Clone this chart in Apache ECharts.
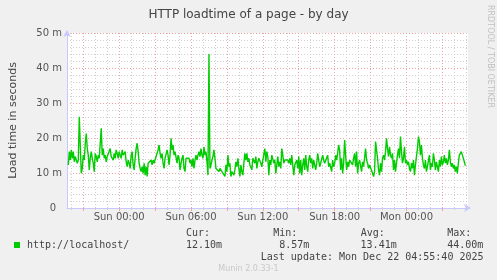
<!DOCTYPE html>
<html>
<head>
<meta charset="utf-8">
<script src="https://cdn.jsdelivr.net/npm/echarts@6/dist/echarts.min.js"></script>
<style>
html,body{margin:0;padding:0;background:#f0f0f0;}
#c{width:497px;height:280px;}
</style>
</head>
<body>
<div id="c"></div>
<script>
// ---- data (milliseconds, 5-minute samples, hours relative to Sun 00:00) ----
const startHour = -4.25;          // Sat 19:45
const stepHours = 5 / 60;         // 5 minute samples
const loadtime = [
12.3,16.1,13.7,16.6,14.2,16.1,13.2,14.7,13.7,12.8,
13.7,26.1,18.0,9.9,11.3,15.1,13.7,18.5,21.3,17.0,
15.1,10.9,14.2,16.1,14.2,12.8,10.4,15.6,14.7,13.2,
15.1,14.2,14.7,22.8,15.1,17.0,14.2,15.1,13.2,14.7,
14.2,15.1,17.0,14.7,15.1,13.7,15.6,14.2,16.6,15.6,
14.2,16.1,15.1,14.2,16.6,15.1,14.7,16.1,13.2,11.8,
13.7,12.8,11.3,15.1,16.1,12.3,10.9,14.2,17.0,18.5,
16.1,12.8,11.3,10.4,11.8,9.9,12.8,9.4,11.8,9.0,
12.8,12.3,13.2,13.7,12.3,13.7,12.8,13.2,14.7,14.2,
16.6,18.0,15.6,14.2,15.6,12.8,11.3,14.2,13.7,16.6,
15.1,12.3,
15.1,19.9,16.6,18.0,15.1,16.1,15.6,12.8,15.1,14.2,
10.9,12.8,14.2,15.1,11.3,10.4,14.2,14.7,14.7,14.2,
12.8,13.7,11.8,14.2,11.3,13.7,15.1,13.7,15.1,16.1,
14.7,17.0,15.1,14.2,17.5,15.1,16.1,13.2,9.4,44.0,
11.3,12.3,13.7,14.7,16.6,14.2,11.3,10.9,11.8,10.4,
11.3,11.8,10.4,9.9,10.9,9.0,12.3,10.4,15.1,11.8,
12.8,9.0,10.4,9.9,9.4,10.9,13.2,11.8,14.2,11.3,
9.0,12.3,10.4,9.4,12.8,15.6,13.7,15.6,13.2,14.2,
12.3,12.8,10.9,14.2,14.7,12.8,14.7,11.3,13.2,14.2,
14.7,12.8,11.8,13.7,14.2,17.0,13.2,16.1,14.7,
9.4,13.7,12.3,15.1,15.6,12.8,13.7,9.9,12.3,14.7,
11.8,13.2,11.3,17.0,15.1,12.8,13.7,14.2,13.2,13.7,
12.8,14.2,12.3,15.1,15.6,9.4,12.3,12.8,13.7,11.3,
14.7,9.9,13.7,9.4,12.3,14.2,10.9,15.1,11.8,10.4,
13.7,15.1,12.8,14.2,11.3,13.7,13.2,10.9,12.8,15.6,
13.7,11.8,12.8,13.2,15.1,13.7,12.8,12.3,13.2,15.1,
11.8,12.8,12.3,10.4,13.7,11.8,12.8,15.1,13.7,15.6,
18.0,16.6,10.9,14.2,9.9,12.8,19.4,15.1,10.9,13.2,
11.8,13.7,13.2,13.7,12.3,14.2,15.6,11.8,16.1,9.9,
12.8,13.7,14.2,10.4,13.2,11.8,14.2,17.0,13.7,12.8,
11.3,12.3,11.8,12.8,9.9,9.0,10.4,19.0,19.0,14.2,
10.9,9.4,12.8,10.4,14.2,15.1,13.7,16.1,19.9,17.0,
14.7,17.5,15.1,14.2,15.6,10.9,13.7,10.4,12.8,15.1,
17.0,14.2,20.4,16.1,12.8,14.2,17.5,12.8,13.7,12.3,
13.2,11.3,10.4,12.8,11.3,13.7,9.4,12.3,14.7,17.0,
20.4,19.0,15.1,18.0,14.2,12.3,11.3,13.7,10.4,11.8,
12.3,15.1,10.9,12.8,11.8,15.6,13.7,10.9,13.2,12.8,
10.4,13.7,11.8,14.7,12.3,13.2,15.1,12.8,14.2,12.3,
13.7,16.6,13.2,11.8,12.8,11.3,12.3,10.4,11.8,9.9,
12.8,15.1,15.6,16.1,15.1,14.2,13.2,12.1
];
const xTickHours = [0, 6, 12, 18, 24];
const xTickLabels = ['Sun 00:00', 'Sun 06:00', 'Sun 12:00', 'Sun 18:00', 'Mon 00:00'];
const gridHours = [-4,-3,-2,-1,0,1,2,3,4,5,6,7,8,9,10,11,12,13,14,15,16,17,18,19,20,21,22,23,24,25,26,27,28,29];
const majorGridHours = [-3,0,3,6,9,12,15,18,21,24,27];
const yTicks = [0, 10, 20, 30, 40, 50];
const seriesName = 'http://localhost/';
const statLabels = ['Cur:', 'Min:', 'Avg:', 'Max:'];
const statValues = ['12.10m', '8.57m', '13.41m', '44.00m'];
const lastUpdate = 'Last update: Mon Dec 22 04:55:40 2025';

// ---- chart ----
const X_MIN = -4.36, X_MAX = 29.14;
const points = loadtime.map((v, i) => [startHour + i * stepHours, v]);
const FONT = 'DejaVu Sans';
const MONO = 'DejaVu Sans Mono';
const TXT = '#444';

const vLines = gridHours.map(h => ({
  xAxis: h,
  lineStyle: majorGridHours.indexOf(h) >= 0
    ? { color: '#f3a3a3', type: [1, 2], width: 1 }
    : { color: '#cfcfcf', type: [1, 2], width: 1 }
}));

const statCols = [186, 273.3, 360.7, 447.3];
const graphics = [
  { type: 'rect', shape: { x: 14, y: 242, width: 6, height: 6 }, style: { fill: '#00cc00' } },
  { type: 'text', style: { text: seriesName, x: 27, y: 245.5, font: '10px "' + MONO + '"', fill: TXT, textVerticalAlign: 'middle' } },
  { type: 'text', style: { text: lastUpdate, x: 483.5, y: 257.5, font: '10px "' + MONO + '"', fill: TXT, textAlign: 'right', textVerticalAlign: 'middle' } },
  { type: 'text', style: { text: 'Munin 2.0.33-1', x: 248.5, y: 268.5, font: '8px "' + FONT + '"', fill: '#c8c8c8', textAlign: 'center', textVerticalAlign: 'middle' } },
  { type: 'text', x: 490, y: 5, rotation: -Math.PI / 2, style: { text: 'RRDTOOL / TOBI OETIKER', x: 0, y: 0, font: '8px "' + FONT + '"', fill: '#c0c0c0', textAlign: 'left', textVerticalAlign: 'middle' } }
];
statLabels.forEach((lab, i) => {
  graphics.push({ type: 'text', style: { text: lab, x: statCols[i], y: 233.5, font: '10px "' + MONO + '"', fill: TXT, textVerticalAlign: 'middle' } });
  graphics.push({ type: 'text', style: { text: statValues[i], x: statCols[i] + 36, y: 245.5, font: '10px "' + MONO + '"', fill: TXT, textAlign: 'right', textVerticalAlign: 'middle' } });
});

const chart = echarts.init(document.getElementById('c'), null, { renderer: 'canvas' });
chart.setOption({
  animation: false,
  backgroundColor: '#f0f0f0',
  title: {
    text: 'HTTP loadtime of a page - by day',
    left: 'center', top: 4,
    textStyle: { fontFamily: FONT, fontSize: 12, fontWeight: 'normal', color: TXT }
  },
  grid: { left: 66, top: 33, width: 402, height: 175, show: true, backgroundColor: '#ffffff', borderWidth: 0 },
  xAxis: [{
    type: 'value', min: X_MIN, max: X_MAX,
    axisLine: { show: true, onZero: false, lineStyle: { color: '#c8c8ff', width: 1 }, symbol: ['none', 'arrow'], symbolSize: [6, 7], symbolOffset: [0, 3] },
    axisTick: { show: true, customValues: gridHours, length: 2, lineStyle: { color: '#cfcfcf' } },
    axisLabel: {
      customValues: xTickHours, margin: 4, color: '#555', fontFamily: FONT, fontSize: 10,
      formatter: v => { const k = xTickHours.indexOf(Math.round(v)); return k >= 0 ? xTickLabels[k] : ''; }
    },
    splitLine: { show: false }
  }, {
    type: 'value', min: X_MIN, max: X_MAX, position: 'bottom',
    axisLine: { show: false, onZero: false },
    axisTick: { show: true, customValues: majorGridHours, length: 3, lineStyle: { color: '#f3a3a3' } },
    axisLabel: { show: false },
    splitLine: { show: false }
  }],
  yAxis: {
    type: 'value', min: 0, max: 50, interval: 10,
    name: 'Load time in seconds', nameLocation: 'middle', nameGap: 48,
    nameTextStyle: { fontFamily: FONT, fontSize: 11, color: TXT },
    axisLine: { show: true, onZero: false, lineStyle: { color: '#c8c8ff', width: 1 }, symbol: ['none', 'arrow'], symbolSize: [6, 7], symbolOffset: [0, 3] },
    axisTick: { show: false },
    axisLabel: {
      margin: 5, color: '#555', fontFamily: FONT, fontSize: 10,
      formatter: v => v === 0 ? '{z|0}' : v + ' m',
      rich: { z: { fontFamily: FONT, fontSize: 10, color: '#555', padding: [0, 6, 0, 0] } }
    },
    splitLine: { show: true, lineStyle: { color: '#f3a3a3', type: [1, 2], width: 1 } },
    minorTick: { show: false, splitNumber: 5 },
    minorSplitLine: { show: true, lineStyle: { color: '#cfcfcf', type: [1, 2], width: 1 } }
  },
  series: [{
    type: 'line', data: [], z: 1, silent: true,
    markLine: { silent: true, symbol: 'none', z: 1, animation: false, label: { show: false }, data: vLines }
  }, {
    name: seriesName, type: 'line', data: points, z: 3,
    showSymbol: false, symbol: 'none',
    lineStyle: { color: '#00cc00', width: 1.4 },
    silent: true
  }],
  graphic: graphics
});
</script>
</body>
</html>
